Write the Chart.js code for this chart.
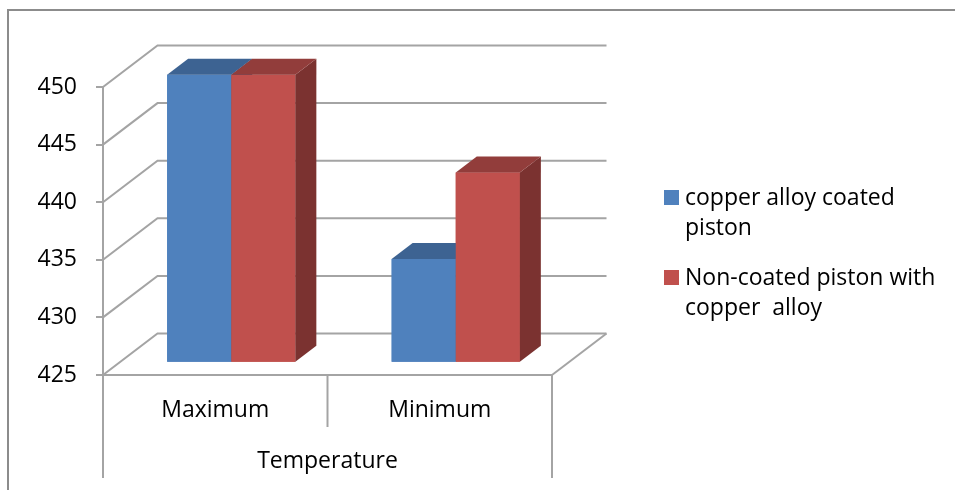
<!DOCTYPE html>
<html>
<head>
<meta charset="utf-8">
<script src="https://cdn.jsdelivr.net/npm/chart.js@4.4.1/dist/chart.umd.min.js"></script>
<style>
  html, body { margin: 0; padding: 0; background: #fff; }
  canvas { display: block; }
</style>
</head>
<body>
<canvas id="c" width="955" height="490"></canvas>
<script>
// Piston temperature data
const categories = ['Maximum', 'Minimum'];
const coatedValues = [450, 434];
const uncoatedValues = [450, 441.5];
const seriesNames = [
  ['copper alloy coated', 'piston'],
  ['Non-coated piston with', 'copper  alloy']
];
const yRange = { min: 425, max: 450, step: 5 };
const axisTitle = 'Temperature';

// Styling
const FONT_FAMILY = '"Open Sans", sans-serif';
const FONT_SIZE = 23;
const GRID = '#a4a4a4';
const WALL = { dx: 54.5, dy: -41.5 };      // depth of the side wall / floor
const BAR_SHIFT = { dx: 16, dy: -12.3 };   // bars sit partway into the depth
const BAR_DEPTH = { dx: 21, dy: -16 };     // thickness of each bar
const SHADES = [
  { front: '#4F81BD', top: '#3D6392', side: '#385C88' },
  { front: '#C0504D', top: '#923D3B', side: '#7B3230' }
];

function poly(ctx, color, pts) {
  ctx.fillStyle = color;
  ctx.beginPath();
  ctx.moveTo(pts[0][0], pts[0][1]);
  for (let i = 1; i < pts.length; i++) ctx.lineTo(pts[i][0], pts[i][1]);
  ctx.closePath();
  ctx.fill();
}

// Draws the 3-D box (walls, floor, bar tops and sides) and the legend
const box3d = {
  id: 'box3d',
  beforeDraw(chart) {
    const ctx = chart.ctx;
    ctx.save();
    ctx.fillStyle = '#fff';
    ctx.fillRect(0, 0, chart.width, chart.height);
    ctx.strokeStyle = '#8c8c8c';
    ctx.lineWidth = 2;
    ctx.strokeRect(8, 10, chart.width + 40, chart.height + 40);
    ctx.restore();
  },
  beforeDatasetsDraw(chart) {
    const { ctx, chartArea: a, scales: { x, y } } = chart;
    ctx.save();
    ctx.strokeStyle = GRID;
    ctx.lineWidth = 2;
    // gridlines running along the side wall and across the back wall
    y.ticks.forEach(t => {
      const py = y.getPixelForValue(t.value);
      ctx.beginPath();
      ctx.moveTo(a.left, py);
      ctx.lineTo(a.left + WALL.dx, py + WALL.dy);
      ctx.lineTo(a.right + WALL.dx, py + WALL.dy);
      ctx.stroke();
    });
    // right edge of the floor
    ctx.beginPath();
    ctx.moveTo(a.right, a.bottom);
    ctx.lineTo(a.right + WALL.dx, a.bottom + WALL.dy);
    ctx.stroke();
    // category separators under the floor
    const n = categories.length;
    const w = (a.right - a.left) / n;
    for (let i = 0; i <= n; i++) {
      const px = i < n ? x.getPixelForValue(i) - w / 2 : x.getPixelForValue(n - 1) + w / 2;
      const outer = i === 0 || i === n;
      ctx.beginPath();
      ctx.moveTo(px, a.bottom);
      ctx.lineTo(px, a.bottom + (outer ? 103 : 52));
      ctx.stroke();
    }
    ctx.restore();
    ctx.save();
    ctx.translate(BAR_SHIFT.dx, BAR_SHIFT.dy);
  },
  afterDatasetsDraw(chart) {
    const ctx = chart.ctx;
    chart.data.datasets.forEach((ds, i) => {
      const meta = chart.getDatasetMeta(i);
      meta.data.forEach(bar => {
        const { x, y, base, width } = bar.getProps(['x', 'y', 'base', 'width'], true);
        const l = x - width / 2, r = x + width / 2;
        const dx = BAR_DEPTH.dx, dy = BAR_DEPTH.dy;
        bar.draw(ctx);
        poly(ctx, SHADES[i].side, [[r, y], [r + dx, y + dy], [r + dx, base + dy], [r, base]]);
        poly(ctx, SHADES[i].top, [[l, y], [r, y], [r + dx, y + dy], [l + dx, y + dy]]);
      });
    });
    ctx.restore();
  },
  afterDraw(chart) {
    const ctx = chart.ctx;
    ctx.save();
    ctx.font = FONT_SIZE + 'px ' + FONT_FAMILY;
    ctx.textBaseline = 'alphabetic';
    ctx.textAlign = 'left';
    chart.data.datasets.forEach((ds, i) => {
      const top = 190 + i * 80;
      ctx.fillStyle = ds.backgroundColor;
      ctx.fillRect(664, top, 15, 15);
      ctx.fillStyle = '#000';
      seriesNames[i].forEach((line, k) => ctx.fillText(line, 685, top + 15 + k * 30));
    });
    ctx.restore();
  }
};

const font = { family: FONT_FAMILY, size: FONT_SIZE };

new Chart(document.getElementById('c'), {
  type: 'bar',
  data: {
    labels: categories,
    datasets: [
      { label: seriesNames[0].join(' '), data: coatedValues, backgroundColor: SHADES[0].front, borderWidth: 0, clip: false, base: yRange.min },
      { label: seriesNames[1].join(' '), data: uncoatedValues, backgroundColor: SHADES[1].front, borderWidth: 0, clip: false, base: yRange.min }
    ]
  },
  options: {
    responsive: false,
    animation: false,
    devicePixelRatio: 1,
    layout: { padding: { left: 0, top: 87, right: 403, bottom: 0 } },
    datasets: { bar: { categoryPercentage: 0.571, barPercentage: 1 } },
    plugins: { legend: { display: false }, tooltip: { enabled: false } },
    scales: {
      x: {
        grid: { display: true, drawOnChartArea: false, drawTicks: false },
        border: { display: true, color: GRID, width: 2 },
        ticks: { color: '#000', font, padding: 21.5 },
        title: { display: true, text: axisTitle, color: '#000', font, padding: { top: 0, bottom: 15 } },
        afterFit(s) { s.height = 115; }
      },
      y: {
        min: yRange.min,
        max: yRange.max,
        ticks: { stepSize: yRange.step, color: '#000', font, padding: 19 },
        grid: { drawOnChartArea: false, drawTicks: true, tickLength: 7, color: GRID, lineWidth: 2 },
        border: { display: true, color: GRID, width: 2 },
        afterFit(s) { s.width = 103; }
      }
    }
  },
  plugins: [box3d]
});
</script>
</body>
</html>
